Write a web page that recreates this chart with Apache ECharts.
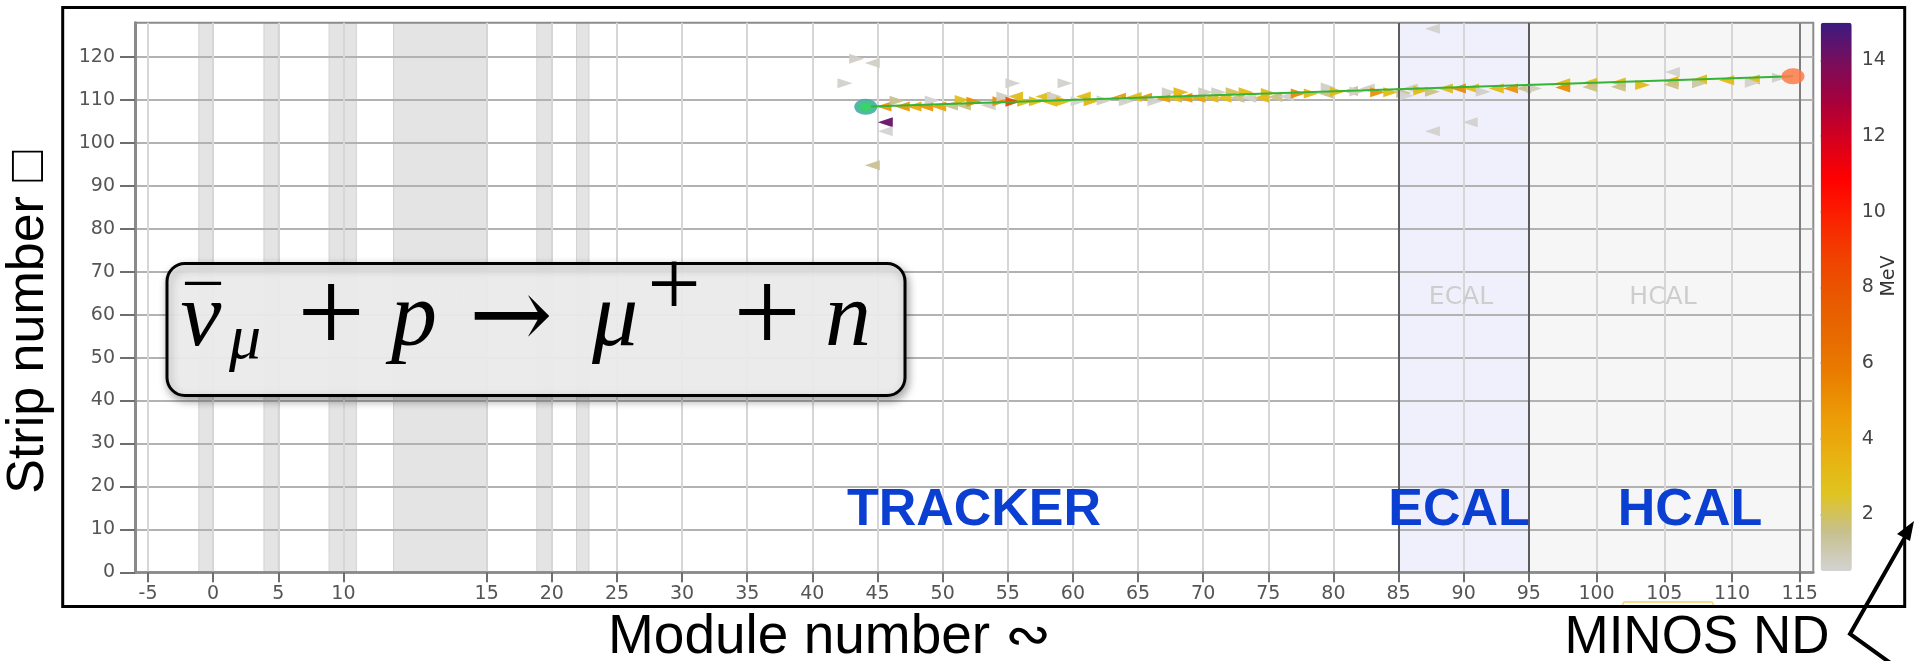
<!DOCTYPE html>
<html>
<head>
<meta charset="utf-8">
<script src="https://cdn.jsdelivr.net/npm/echarts@6/dist/echarts.min.js"></script>
<style>
  html, body { margin: 0; padding: 0; background: #ffffff; }
  #chart { width: 1915px; height: 661px; }
</style>
</head>
<body>
<div id="chart"></div>
<script>
// ---- axis ticks ----
const MODULE_TICKS = [-5, 0, 5, 10, 15, 20, 25, 30, 35, 40, 45, 50, 55, 60, 65, 70, 75, 80, 85, 90, 95, 100, 105, 110, 115];
const STRIP_TICKS = [0, 10, 20, 30, 40, 50, 60, 70, 80, 90, 100, 110, 120];
const MEV_TICKS = [2, 4, 6, 8, 10, 12, 14];
const MEV_RANGE = [0.5, 15];

// ---- detector regions (module numbers) ----
const TARGET_START = [-1.1, 3.9, 8.9, 11.75, 18.85, 21.9];
const TARGET_END = [0, 5, 10.45, 15, 20, 22.85];
const ECAL_RANGE = [85, 95];
const HCAL_RANGE = [95, 116];
const DETECTOR_EDGES = [85, 95, 115];

// ---- hits: module, strip, deposited energy (MeV), triangle orientation ----
const hitModule = [
  43.4, 44.6, 42.5, 55.4, 59.4, 45.6, 45.6, 44.6, 87.6, 87.6, 90.5, 105.6,
  45.5, 46.5, 46.9, 47.8, 48.7, 49.2, 49.7, 50.6, 51.5, 51.6, 52.4, 53.5,
  54.4, 54.7, 55.4, 55.6, 56.3, 57.2, 57.7, 58.2, 58.6, 59.3, 60.4, 60.8,
  61.4, 62.4, 63.5, 64.1, 64.7, 65.5, 66.3, 66.9, 67.4, 67.8, 68.3, 68.6,
  69.6, 70.2, 70.6, 71.2, 71.6, 72.3, 72.6, 73.3, 73.5, 74.5, 75.0, 75.5,
  76.4, 77.3, 78.3, 79.4, 79.6, 80.3, 81.3, 81.8, 82.6, 83.4, 84.4, 85.4,
  85.6, 85.9, 86.7, 87.6, 88.6, 89.6, 90.6, 91.5, 92.5, 93.6, 94.6, 95.4,
  97.5, 97.5, 99.5, 99.5, 101.6, 101.6, 103.4, 105.5, 105.5, 107.6, 107.6, 109.6,
  111.5, 111.5, 113.5
];
const hitStrip = [
  119.6, 118.6, 113.9, 113.9, 113.9, 104.8, 102.7, 94.8, 126.6, 102.7, 104.8, 116.5,
  108.5, 109.8, 108.5, 108.5, 108.5, 109.9, 108.5, 108.7, 110.0, 108.7, 109.6, 108.8,
  109.7, 110.8, 109.6, 110.8, 109.6, 109.7, 110.8, 109.6, 110.8, 109.7, 109.7, 110.8,
  109.7, 109.9, 110.5, 109.7, 110.7, 110.5, 109.7, 110.5, 111.8, 110.5, 111.8, 110.5,
  110.5, 111.8, 110.5, 111.8, 110.5, 111.8, 110.5, 111.8, 110.5, 110.5, 111.6, 110.7,
  110.8, 111.5, 111.5, 111.5, 112.9, 111.9, 112.1, 112.0, 112.7, 111.8, 111.8, 111.6,
  111.0, 112.7, 112.2, 111.9, 112.7, 112.7, 112.7, 111.9, 112.7, 112.7, 112.7, 112.7,
  113.9, 112.9, 114.0, 113.0, 114.1, 113.1, 113.5, 114.4, 113.6, 114.8, 113.9, 114.6,
  114.8, 114.0, 115.2
];
const hitEnergy = [
  0.7, 0.7, 0.6, 0.6, 0.6, 14.3, 0.5, 1.4, 0.6, 0.6, 0.6, 0.6,
  4.8, 1.5, 4.8, 3.8, 4.8, 0.5, 4.2, 1.5, 2.8, 1.6, 5.0, 0.7,
  5.0, 0.7, 8.6, 3.0, 3.0, 3.0, 3.0, 3.0, 0.7, 3.2, 0.6, 3.0,
  3.4, 0.8, 4.6, 0.6, 3.0, 4.6, 0.6, 4.4, 0.7, 3.0, 3.2, 4.6,
  4.2, 0.8, 3.0, 0.8, 2.9, 2.0, 1.5, 3.0, 0.7, 3.2, 3.0, 1.6,
  0.7, 5.2, 3.2, 1.6, 0.7, 3.0, 1.6, 0.6, 0.7, 5.0, 3.0, 1.6,
  0.5, 0.7, 3.0, 1.6, 3.0, 5.2, 3.0, 0.7, 3.2, 5.0, 1.6, 0.8,
  3.0, 5.2, 3.0, 1.6, 3.0, 1.6, 3.2, 3.0, 1.6, 3.0, 1.2, 3.0,
  3.2, 0.6, 0.7
];
const hitSide = [
  'R', 'L', 'R', 'R', 'R', 'L', 'L', 'L', 'L', 'L', 'L', 'L',
  'L', 'R', 'L', 'L', 'L', 'R', 'L', 'L', 'R', 'L', 'R', 'L',
  'R', 'R', 'R', 'L', 'R', 'R', 'L', 'L', 'R', 'R', 'R', 'L',
  'R', 'R', 'L', 'R', 'L', 'L', 'R', 'L', 'R', 'L', 'R', 'L',
  'L', 'R', 'L', 'R', 'L', 'R', 'L', 'R', 'L', 'L', 'R', 'L',
  'L', 'R', 'R', 'L', 'R', 'R', 'L', 'R', 'L', 'R', 'R', 'R',
  'R', 'L', 'R', 'R', 'L', 'L', 'L', 'R', 'L', 'L', 'L', 'R',
  'L', 'L', 'L', 'L', 'L', 'L', 'R', 'L', 'L', 'L', 'R', 'L',
  'L', 'R', 'R'
];

// ---- reconstructed muon track ----
const trackModule = [44.5, 114.5];
const trackStrip = [108.5, 115.5];
const vertexModule = [44.1];
const vertexStrip = [108.4];
const exitModule = [114.5];
const exitStrip = [115.5];

// Horizontal layout of the module axis: the water target (10-15) is drawn wider,
// and HCAL modules are slightly wider than tracker/ECAL modules.
function toAxis(m) {
  if (m <= 10) return m;
  if (m <= 15) return 10 + (m - 10) * 2.2;
  if (m <= 95) return m + 6;
  return 101 + (m - 95) * 1.04;
}
const AXIS_MIN = -6;
const AXIS_MAX = toAxis(116);

const tickFont = 'DejaVu Sans';
const titleFont = '"Liberation Sans", Arial, Helvetica, sans-serif';
const mathFont = '"Liberation Serif", "Times New Roman", serif';

const hitsLeft = [], hitsRight = [];
hitModule.forEach((m, i) => {
  const p = [toAxis(m), hitStrip[i], hitEnergy[i]];
  (hitSide[i] === 'L' ? hitsLeft : hitsRight).push(p);
});

const regionAreas = TARGET_START.map((s, i) => [
  { xAxis: toAxis(s), itemStyle: { color: '#e4e4e4', borderColor: '#d2d2d2', borderWidth: 1 } },
  { xAxis: toAxis(TARGET_END[i]) }
]);
regionAreas.push([
  { xAxis: toAxis(ECAL_RANGE[0]), itemStyle: { color: '#f0f0fc' } },
  { xAxis: toAxis(ECAL_RANGE[1]) }
]);
regionAreas.push([
  { xAxis: toAxis(HCAL_RANGE[0]), itemStyle: { color: '#f6f6f6' } },
  { xAxis: toAxis(HCAL_RANGE[1]) }
]);

function moduleLabel(v) {
  const i = MODULE_TICKS.findIndex(m => Math.abs(toAxis(m) - v) < 1e-3);
  return i < 0 ? '' : String(MODULE_TICKS[i]);
}

const chart = echarts.init(document.getElementById('chart'), null, { renderer: 'canvas' });

const option = {
  animation: false,
  backgroundColor: '#ffffff',
  grid: [
    { left: 135, right: 101.7, top: 22.7, bottom: 88.7, show: true, borderColor: '#8c8c8c', borderWidth: 2, backgroundColor: 'transparent' },
    { left: 1820.7, top: 22.7, width: 31, height: 548.3, show: false }
  ],
  xAxis: [
    {
      type: 'value', gridIndex: 0, min: AXIS_MIN, max: AXIS_MAX,
      axisLine: { show: true, onZero: false, lineStyle: { color: '#8a8a8a', width: 2.5 } },
      axisTick: { show: true, length: 10, customValues: MODULE_TICKS.map(toAxis), lineStyle: { color: '#6e6e6e', width: 2 } },
      axisLabel: { customValues: MODULE_TICKS.map(toAxis), formatter: moduleLabel, margin: 12, fontSize: 19, fontFamily: tickFont, color: '#555' },
      splitLine: { show: true, lineStyle: { color: '#d6d6d6', width: 2 } }
    },
    { type: 'value', gridIndex: 1, min: 0, max: 1, show: false }
  ],
  yAxis: [
    {
      type: 'value', gridIndex: 0, min: 0, max: 128,
      axisLine: { show: true, onZero: false, lineStyle: { color: '#8a8a8a', width: 3 } },
      axisTick: { show: true, length: 15, customValues: STRIP_TICKS, lineStyle: { color: '#6e6e6e', width: 2 } },
      axisLabel: { customValues: STRIP_TICKS, margin: 20, fontSize: 19, fontFamily: tickFont, color: '#555' },
      splitLine: { show: true, lineStyle: { color: '#b2b2b2', width: 2 } }
    },
    {
      type: 'value', gridIndex: 1, min: MEV_RANGE[0], max: MEV_RANGE[1], position: 'right',
      axisLine: { show: false },
      axisTick: { show: true, length: 7, customValues: MEV_TICKS, lineStyle: { color: '#555', width: 1.5 } },
      axisLabel: { customValues: MEV_TICKS, margin: 10, fontSize: 19, fontFamily: tickFont, color: '#444' },
      splitLine: { show: false }
    }
  ],
  visualMap: {
    type: 'continuous', min: MEV_RANGE[0], max: MEV_RANGE[1], dimension: 2, seriesIndex: [1, 2],
    show: true, calculable: false, hoverLink: false, orient: 'vertical',
    left: 1820.7, top: 22.7, itemWidth: 31, itemHeight: 548.3, padding: 0, text: null,
    inRange: { color: ['#d3d3d3', '#c7c08e', '#e0c41e', '#e8b010', '#ec9a06', '#e97e00', '#e76a00', '#e95800', '#f04200', '#fa2200', '#ff0000', '#d6001e', '#a6003c', '#780e5c', '#3c1a80'] }
  },
  series: [
    {
      name: 'regions', type: 'scatter', xAxisIndex: 0, yAxisIndex: 0, data: [], silent: true,
      markArea: { silent: true, z: -1, data: regionAreas },
      markLine: {
        silent: true, symbol: 'none', label: { show: false },
        lineStyle: { type: 'solid', width: 2 },
        data: DETECTOR_EDGES.map((m, i) => ({ xAxis: toAxis(m), lineStyle: { color: i < 2 ? '#5c5c5c' : '#7e7e7e', width: 2, type: 'solid' } }))
      }
    },
    {
      name: 'hits-left', type: 'scatter', xAxisIndex: 0, yAxisIndex: 0, data: hitsLeft,
      symbol: 'triangle', symbolSize: [10, 15], symbolRotate: 90, itemStyle: { opacity: 0.95 }, z: 3
    },
    {
      name: 'hits-right', type: 'scatter', xAxisIndex: 0, yAxisIndex: 0, data: hitsRight,
      symbol: 'triangle', symbolSize: [10, 15], symbolRotate: -90, itemStyle: { opacity: 0.95 }, z: 3
    },
    {
      name: 'vertex', type: 'scatter', xAxisIndex: 0, yAxisIndex: 0,
      data: vertexModule.map((m, i) => [toAxis(m), vertexStrip[i]]),
      symbol: 'circle', symbolSize: [23, 16], z: 4,
      itemStyle: { opacity: 0.9, color: { type: 'radial', x: 0.5, y: 0.5, r: 0.5, colorStops: [
        { offset: 0, color: '#18dc40' }, { offset: 0.55, color: '#2fbf78' }, { offset: 1, color: '#4aa6b2' } ] } }
    },
    {
      name: 'track', type: 'line', xAxisIndex: 0, yAxisIndex: 0,
      data: trackModule.map((m, i) => [toAxis(m), trackStrip[i]]),
      symbol: 'none', lineStyle: { color: '#36b436', width: 2 }, z: 5
    },
    {
      name: 'exit', type: 'scatter', xAxisIndex: 0, yAxisIndex: 0,
      data: exitModule.map((m, i) => [toAxis(m), exitStrip[i]]),
      symbol: 'circle', symbolSize: [23, 16], z: 6,
      itemStyle: { color: '#fb7a45', opacity: 0.85 }
    }
  ],
  graphic: [
    // outer frame
    { type: 'rect', z: 200, shape: { x: 62.7, y: 7.5, width: 1842, height: 599 }, style: { fill: 'none', stroke: '#000', lineWidth: 3 } },
    // faint detector labels
    { type: 'text', z: 20, x: 1461, y: 297, style: { text: 'ECAL', fontSize: 25, fontFamily: tickFont, fill: '#cdcdcd', align: 'center', verticalAlign: 'middle' } },
    { type: 'text', z: 20, x: 1663, y: 297, style: { text: 'HCAL', fontSize: 25, fontFamily: tickFont, fill: '#cdcdcd', align: 'center', verticalAlign: 'middle' } },
    { type: 'text', z: 20, x: 436, y: 297, style: { text: 'Water', fontSize: 23, fontFamily: tickFont, fill: '#f7f7f7', align: 'center', verticalAlign: 'middle' } },
    // reaction box
    { type: 'rect', z: 50, shape: { x: 167, y: 263.5, width: 738, height: 132, r: 18 },
      style: { fill: 'rgba(240,240,240,0.93)', stroke: '#000', lineWidth: 3, shadowBlur: 8, shadowOffsetX: 2, shadowOffsetY: 4, shadowColor: 'rgba(0,0,0,0.35)' } },
    { type: 'text', z: 60, x: 201, y: 321, style: { text: 'ν', fontSize: 92, fontStyle: 'italic', fontFamily: mathFont, fill: '#000', align: 'center', verticalAlign: 'middle' } },
    { type: 'text', z: 60, x: 203, y: 317, style: { text: '¯', fontSize: 70, fontFamily: mathFont, fill: '#000', align: 'center', verticalAlign: 'middle' } },
    { type: 'text', z: 60, x: 245, y: 341, style: { text: 'μ', fontSize: 64, fontStyle: 'italic', fontFamily: mathFont, fill: '#000', align: 'center', verticalAlign: 'middle' } },
    { type: 'text', z: 60, x: 331, y: 320, style: { text: '+', fontSize: 120, fontFamily: mathFont, fill: '#000', align: 'center', verticalAlign: 'middle' } },
    { type: 'text', z: 60, x: 414, y: 321, style: { text: 'p', fontSize: 92, fontStyle: 'italic', fontFamily: mathFont, fill: '#000', align: 'center', verticalAlign: 'middle' } },
    { type: 'text', z: 60, x: 511, y: 322, style: { text: '→', fontSize: 100, fontFamily: '"DejaVu Serif", serif', fill: '#000', align: 'center', verticalAlign: 'middle' } },
    { type: 'text', z: 60, x: 615, y: 321, style: { text: 'μ', fontSize: 92, fontStyle: 'italic', fontFamily: mathFont, fill: '#000', align: 'center', verticalAlign: 'middle' } },
    { type: 'text', z: 60, x: 674, y: 290, style: { text: '+', fontSize: 95, fontFamily: mathFont, fill: '#000', align: 'center', verticalAlign: 'middle' } },
    { type: 'text', z: 60, x: 767, y: 320, style: { text: '+', fontSize: 120, fontFamily: mathFont, fill: '#000', align: 'center', verticalAlign: 'middle' } },
    { type: 'text', z: 60, x: 848, y: 321, style: { text: 'n', fontSize: 92, fontStyle: 'italic', fontFamily: mathFont, fill: '#000', align: 'center', verticalAlign: 'middle' } },
    // sub-detector names
    { type: 'text', z: 60, x: 974, y: 511, style: { text: 'TRACKER', fontSize: 52, fontWeight: 'bold', fontFamily: titleFont, fill: '#0b3fd1', align: 'center', verticalAlign: 'middle' } },
    { type: 'text', z: 60, x: 1459, y: 511, style: { text: 'ECAL', fontSize: 52, fontWeight: 'bold', fontFamily: titleFont, fill: '#0b3fd1', align: 'center', verticalAlign: 'middle' } },
    { type: 'text', z: 60, x: 1690, y: 511, style: { text: 'HCAL', fontSize: 52, fontWeight: 'bold', fontFamily: titleFont, fill: '#0b3fd1', align: 'center', verticalAlign: 'middle' } },
    // axis titles
    { type: 'text', z: 60, x: 608, y: 638, style: { text: 'Module number ∾', fontSize: 55, fontFamily: titleFont, fill: '#000', align: 'left', verticalAlign: 'middle' } },
    { type: 'text', z: 60, x: 29, y: 322, rotation: Math.PI / 2, style: { text: 'Strip number □', fontSize: 52, fontFamily: titleFont, fill: '#000', align: 'center', verticalAlign: 'middle' } },
    { type: 'text', z: 60, x: 1889, y: 276, rotation: Math.PI / 2, style: { text: 'MeV', fontSize: 19, fontFamily: tickFont, fill: '#333', align: 'center', verticalAlign: 'middle' } },
    { type: 'text', z: 60, x: 1697, y: 638, style: { text: 'MINOS ND', fontSize: 53, fontFamily: titleFont, fill: '#000', align: 'center', verticalAlign: 'middle' } },
    // pointer to the MINOS near detector
    { type: 'polyline', z: 210, shape: { points: [[1908, 532], [1850, 634], [1896, 667]] }, style: { stroke: '#000', lineWidth: 4, fill: 'none' } },
    { type: 'polygon', z: 210, shape: { points: [[1914, 521], [1910, 541], [1897, 534]] }, style: { fill: '#000' } },
    // strip of a hidden legend peeking above the frame
    { type: 'polyline', z: 190, shape: { points: [[1622, 606], [1624, 602], [1712, 602], [1714, 606]] }, style: { stroke: '#f1d46a', lineWidth: 1.5, fill: 'none' } }
  ]
};

chart.setOption(option);
</script>
</body>
</html>
